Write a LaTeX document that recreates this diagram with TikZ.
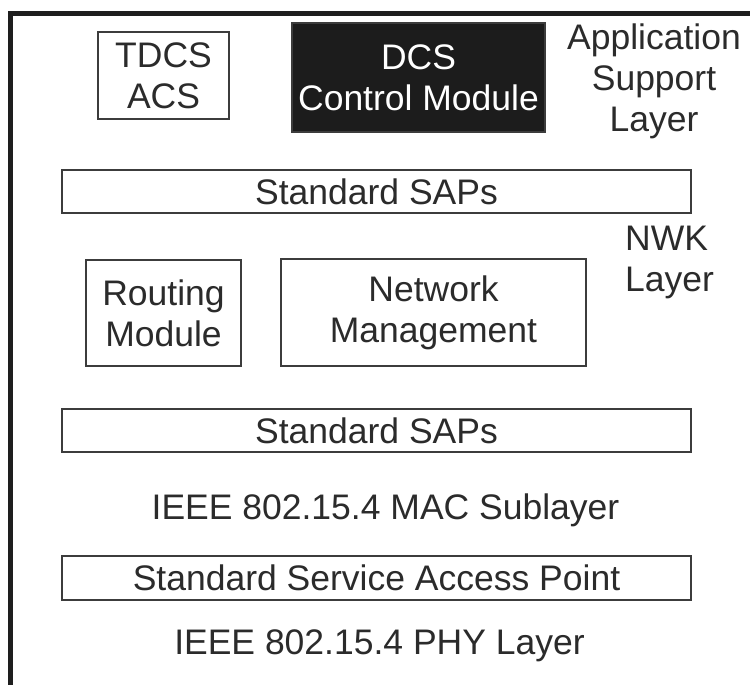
\documentclass[tikz,border=0pt]{standalone}
\usepackage{fontspec}
\setmainfont{Liberation Sans}
\definecolor{ink}{HTML}{2B2B2B}
\definecolor{boxline}{HTML}{3C3C3C}
\definecolor{frameink}{HTML}{1E1E1E}
\definecolor{darkfill}{HTML}{1C1C1C}
\tikzset{
  lbl/.style={font=\fontsize{35.5}{41}\selectfont, text=ink, inner sep=0pt, align=center},
  modbox/.style={lbl, draw=boxline, line width=1.5pt},
  darkbox/.style={lbl, draw=boxline, fill=darkfill, text=white, line width=1.5pt},
  framerule/.style={draw=frameink, line width=5.5pt, line join=miter, line cap=rect}
}
\begin{document}
\begin{tikzpicture}[x=1pt,y=-1pt]
\useasboundingbox (0,0) rectangle (750,685);
\fill[white] (0,0) rectangle (750,685);
% outer frame (top and left sides)
\draw[framerule] (10.3,690) -- (10.3,13.3) -- (760,13.3);

% Application Support Layer
\node[modbox, minimum width=131pt, minimum height=87pt] (tdcs) at (163.5,75.5) {TDCS\\ACS};
\node[darkbox, minimum width=253pt, minimum height=109pt] (dcs) at (418.5,77.5) {DCS\\Control Module};
\node[lbl] (asl) at (654,81.5) {Application\\Support\\Layer};
\node[modbox, minimum width=629pt, minimum height=43pt] (saps1) at (376.5,191.5) {Standard SAPs};

% NWK Layer
\node[lbl, align=left, anchor=west] (nwk) at (625,262) {NWK\\Layer};
\node[modbox, minimum width=155pt, minimum height=106pt] (routing) at (163.5,313) {Routing\\Module};
\node[modbox, minimum width=305pt, minimum height=107pt] (netman) at (433.5,312.5) {Network\\Management};
\node[modbox, minimum width=629pt, minimum height=43pt] (saps2) at (376.5,430.5) {Standard SAPs};

% MAC / PHY
\node[lbl, anchor=base] (mac) at (385.5,519) {IEEE 802.15.4 MAC Sublayer};
\node[modbox, minimum width=629pt, minimum height=44pt] (ssap) at (376.5,578) {Standard Service Access Point};
\node[lbl, anchor=base] (phy) at (379.5,654) {IEEE 802.15.4 PHY Layer};
\end{tikzpicture}
\end{document}
